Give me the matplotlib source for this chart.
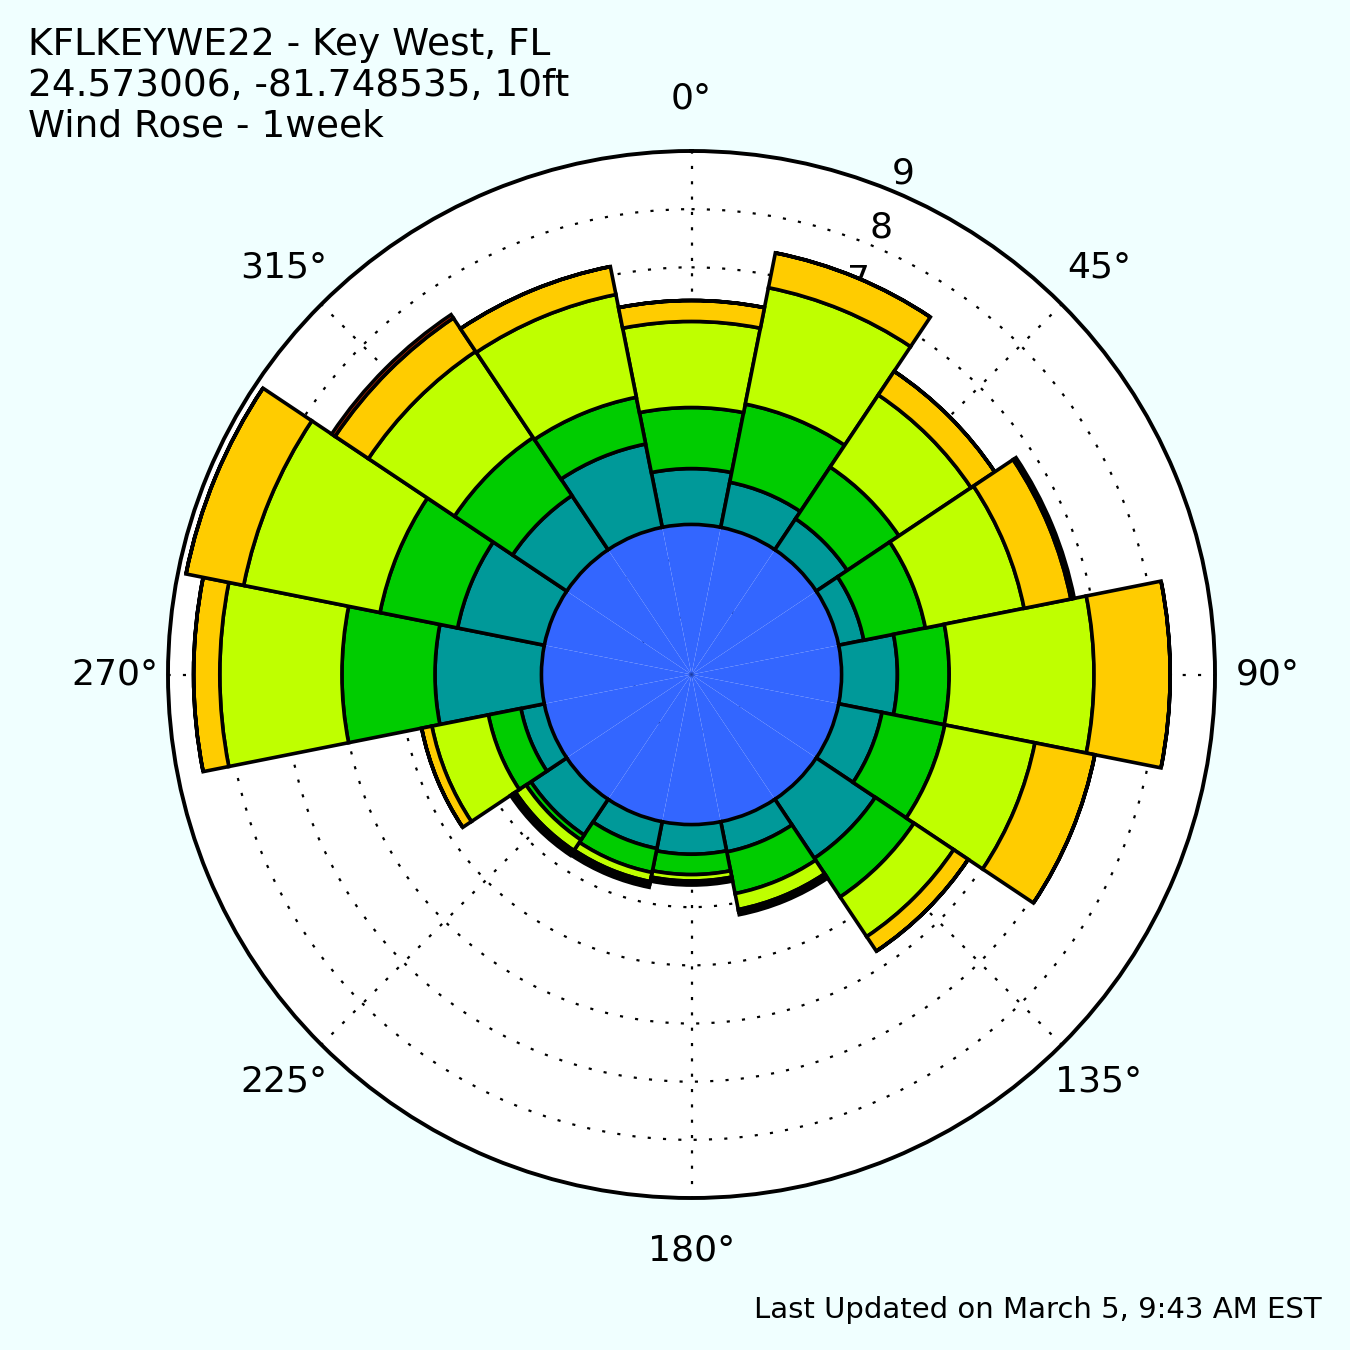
import numpy as np
import matplotlib
matplotlib.use('Agg')
import matplotlib.pyplot as plt

# ---- data (percent frequency, stacked by speed bin) ----
directions = [0, 22.5, 45, 67.5, 90, 112.5, 135, 157.5,
              180, 202.5, 225, 247.5, 270, 292.5, 315, 337.5]
bin1 = [2.58] * 16
bin2 = [0.96, 0.79, 0.64, 0.44, 0.96, 0.76, 1.22, 0.53,
        0.51, 0.47, 0.74, 0.41, 1.83, 1.52, 1.12, 1.46]
bin3 = [1.05, 1.37, 1.07, 1.08, 0.89, 1.10, 0.80, 0.73,
        0.35, 0.42, 0.10, 0.57, 1.60, 1.36, 1.20, 0.82]
bin4 = [1.48, 2.04, 1.49, 1.73, 2.49, 1.58, 0.82, 0.28,
        0.11, 0.16, 0.22, 0.99, 2.10, 2.39, 1.78, 1.80]
bin5 = [0.36, 0.61, 0.49, 0.82, 1.31, 1.05, 0.30, 0.04,
        0.03, 0.04, 0.04, 0.18, 0.45, 1.01, 0.69, 0.49]
bin6 = [0.00, 0.00, 0.00, 0.06, 0.00, 0.00, 0.00, 0.05,
        0.04, 0.06, 0.06, 0.00, 0.00, 0.00, 0.07, 0.00]
bin_colors = ['#3366FF', '#009999', '#00CC00', '#BFFF00', '#FFCC00', '#FF3300']
theta_labels = ['0°', '45°', '90°', '135°', '180°', '225°', '270°', '315°']
r_ticks = [1, 2, 3, 4, 5, 6, 7, 8, 9]

title_text = "KFLKEYWE22 - Key West, FL\n24.573006, -81.748535, 10ft\nWind Rose - 1week"
footer_text = "Last Updated on March 5, 9:43 AM EST"

fig = plt.figure(figsize=(13.5, 13.5), dpi=100, facecolor='#F0FFFF')
ax = fig.add_axes([168 / 1350, 152 / 1350, 1047 / 1350, 1047 / 1350], projection='polar')
ax.set_facecolor('white')
ax.set_theta_zero_location('N')
ax.set_theta_direction(-1)

theta = np.deg2rad(directions)
width = 2 * np.pi / len(directions)
bottom = np.zeros(len(directions))
for i, (vals, col) in enumerate(zip([bin1, bin2, bin3, bin4, bin5, bin6], bin_colors)):
    vals = np.asarray(vals)
    if i == 0:
        ax.bar(theta, vals, width=width, bottom=bottom, color=col,
               edgecolor=col, linewidth=0, zorder=2)
    else:
        ax.bar(theta, vals, width=width, bottom=bottom, color=col,
               edgecolor='black', linewidth=2.6, zorder=2)
    bottom = bottom + vals

ax.set_ylim(0, 9)
ax.set_yticks(r_ticks)
ax.set_yticklabels([str(t) for t in r_ticks], fontsize=26)
ax.set_rlabel_position(22.5)
ax.set_xticks(np.deg2rad(np.arange(0, 360, 45)))
ax.set_xticklabels(theta_labels, fontsize=26)
ax.tick_params(axis='x', pad=31, length=0)
ax.tick_params(axis='y', length=0)
ax.grid(True, color='black', linestyle=(0, (1.4, 5.5)), linewidth=1.6)
ax.spines['polar'].set_linewidth(2.8)

fig.text(28 / 1350, 1 - 27 / 1350, title_text, ha='left', va='top',
         fontsize=27, linespacing=1.17)
fig.text(1322 / 1350, 1 - 1318 / 1350, footer_text, ha='right', va='baseline',
         fontsize=21)

fig.savefig('out.png', dpi=100, facecolor=fig.get_facecolor())
